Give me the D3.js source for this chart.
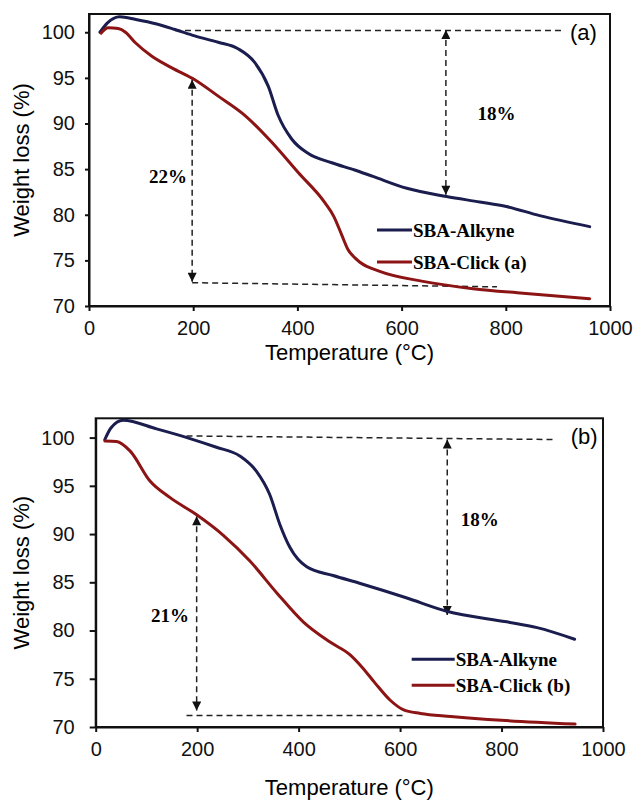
<!DOCTYPE html>
<html>
<head>
<meta charset="utf-8">
<script src="https://cdn.jsdelivr.net/npm/d3@7"></script>
<style>
  body { margin: 0; background: #fff; }
  svg { display: block; }
  .tick text { font-family: "Liberation Sans", Arial, sans-serif; font-size: 20px; fill: #111; }
  .domain, .tick line { stroke: #111; stroke-width: 2px; }
</style>
</head>
<body>
<svg id="grafico" width="635" height="805"></svg>
<script>
// valores (temperatura °C, pérdida de peso %)
const alkyneA = [[21,100.0],[35,101.0],[59,101.7],[90,101.4],[130,100.9],[165,100.3],[203,99.6],[248,98.9],[286,98.2],[318,96.7],[344,94.1],[363,90.9],[389,88.3],[421,86.7],[466,85.7],[510,84.9],[545,84.2],[610,82.9],[686,82.0],[750,81.4],[801,80.9],[865,79.9],[961,78.7]];
const clickA = [[23,99.9],[37,100.5],[56,100.4],[70,100.0],[88,98.9],[120,97.4],[159,96.1],[203,94.8],[248,93.0],[299,90.9],[350,88.0],[402,84.6],[453,81.3],[470,79.8],[485,77.8],[497,76.2],[510,75.3],[520,74.8],[558,73.8],[641,72.7],[737,71.9],[833,71.4],[961,70.8]];
const alkyneB = [[18,99.8],[30,101.0],[54,101.8],[120,100.9],[186,99.9],[238,99.0],[284,98.1],[317,96.5],[343,94.1],[363,91.0],[383,88.6],[416,86.6],[468,85.7],[520,84.9],[612,83.4],[692,82.0],[810,80.9],[870,80.3],[944,79.1]];
const clickB = [[18,99.65],[41,99.6],[68,98.6],[107,95.5],[146,93.8],[199,92.0],[251,89.9],[304,87.2],[357,83.9],[409,80.9],[462,78.8],[501,77.5],[525,76.2],[550,74.6],[580,72.8],[606,71.8],[640,71.4],[700,71.1],[800,70.7],[945,70.3]];

const nombresA = ["SBA-Alkyne", "SBA-Click (a)"];
const nombresB = ["SBA-Alkyne", "SBA-Click (b)"];

const xTicks = [0, 200, 400, 600, 800, 1000];
const yTicks = [70, 75, 80, 85, 90, 95, 100];

// anotaciones: líneas discontinuas, flechas [x, yArriba, yAbajo], textos
const lineasA = [[[165,100.2],[910,100.2]], [[198,72.55],[783,72.1]]];
const flechasA = [[685,100.25,82.2], [198,94.8,72.65]];
const notasA = [["18%",782,91.15], ["22%",151.6,84.17]];
const etiquetaA = ["(a)", 949, 100];

const lineasB = [[[179,100.17],[901,99.8]], [[179,71.2],[605,71.2]]];
const flechasB = [[693,99.8,81.6], [199,91.85,71.7]];
const notasB = [["18%",757,91.5], ["21%",146.4,81.6]];
const etiquetaB = ["(b)", 963, 100.1];

const colores = ["#1a1d4d", "#8c1414"];

const svg = d3.select("#grafico");

svg.append("defs").append("marker")
    .attr("id", "punta")
    .attr("viewBox", "0 0 10 10")
    .attr("refX", 10).attr("refY", 5)
    .attr("markerWidth", 10).attr("markerHeight", 9)
    .attr("markerUnits", "userSpaceOnUse")
    .attr("orient", "auto-start-reverse")
    .append("path")
    .attr("d", "M0,0 L10,5 L0,10 z")
    .attr("fill", "#111");

function dibujarPanel(p) {
    const x = d3.scaleLinear().domain([0, 1000]).range([p.left, p.right]);
    const y = d3.scaleLinear().domain([70, 102]).range([p.bottom, p.top]);
    const g = svg.append("g");

    // ejes
    g.append("g")
        .attr("transform", "translate(0," + p.bottom + ")")
        .call(d3.axisBottom(x).tickValues(xTicks).tickSize(5).tickSizeOuter(0).tickPadding(p.xPad).tickFormat(d3.format("d")));
    g.append("g")
        .attr("transform", "translate(" + p.left + ",0)")
        .call(d3.axisLeft(y).tickValues(yTicks).tickSize(p.yTick).tickSizeOuter(0).tickPadding(p.yPad));

    // marco
    g.append("rect")
        .attr("x", p.left).attr("y", p.top)
        .attr("width", p.right - p.left).attr("height", p.bottom - p.top)
        .attr("fill", "none").attr("stroke", "#111").attr("stroke-width", 2);

    // líneas de referencia
    const linea = d3.line().x(d => x(d[0])).y(d => y(d[1]));
    for (let l of p.lineas) {
        g.append("path").attr("d", linea(l))
            .attr("fill", "none").attr("stroke", "#222")
            .attr("stroke-width", 1.5).attr("stroke-dasharray", "6,4");
    }
    for (let f of p.flechas) {
        g.append("line")
            .attr("x1", x(f[0])).attr("y1", y(f[1]))
            .attr("x2", x(f[0])).attr("y2", y(f[2]))
            .attr("stroke", "#222").attr("stroke-width", 1.5)
            .attr("stroke-dasharray", "6,4")
            .attr("marker-start", "url(#punta)")
            .attr("marker-end", "url(#punta)");
    }

    // curvas
    const curva = d3.line().curve(d3.curveMonotoneX).x(d => x(d[0])).y(d => y(d[1]));
    p.series.forEach((s, i) => {
        g.append("path").datum(s)
            .attr("d", curva)
            .attr("fill", "none")
            .attr("stroke", colores[i])
            .attr("stroke-width", 3)
            .attr("stroke-linejoin", "round")
            .attr("stroke-linecap", "round");
    });

    for (let n of p.notas) {
        g.append("text")
            .attr("x", x(n[1])).attr("y", y(n[2])).attr("dy", "0.35em")
            .attr("text-anchor", "middle")
            .style("font-family", "'Liberation Serif', 'Times New Roman', serif")
            .style("font-weight", "bold").style("font-size", "19px")
            .text(n[0]);
    }
    g.append("text")
        .attr("x", x(p.etiqueta[1])).attr("y", y(p.etiqueta[2])).attr("dy", "0.35em")
        .attr("text-anchor", "middle")
        .style("font-family", "'Liberation Sans', Arial, sans-serif")
        .style("font-size", "22px")
        .text(p.etiqueta[0]);

    // leyenda
    p.nombres.forEach((nombre, i) => {
        const ly = p.top + p.legY + i * p.legGap;
        const lx = p.left + p.legX;
        g.append("line")
            .attr("x1", lx).attr("x2", lx + p.legLen)
            .attr("y1", ly).attr("y2", ly)
            .attr("stroke", colores[i]).attr("stroke-width", 3);
        g.append("text")
            .attr("x", lx + p.legLen + 1).attr("y", ly).attr("dy", "0.35em")
            .style("font-family", "'Liberation Serif', 'Times New Roman', serif")
            .style("font-weight", "bold").style("font-size", "19px")
            .text(nombre);
    });

    // títulos de ejes
    g.append("text")
        .attr("transform", "translate(28.5," + ((p.top + p.bottom) / 2) + ") rotate(-90)")
        .attr("text-anchor", "middle")
        .style("font-family", "'Liberation Sans', Arial, sans-serif")
        .style("font-size", "22px")
        .text("Weight loss (%)");
    g.append("text")
        .attr("x", (p.left + p.right) / 2).attr("y", p.xTitleY)
        .attr("text-anchor", "middle")
        .style("font-family", "'Liberation Sans', Arial, sans-serif")
        .style("font-size", "22px")
        .text("Temperature (°C)");
}

dibujarPanel({
    left: 89, right: 610, top: 14, bottom: 306,
    xPad: 10, yTick: 4, yPad: 10, xTitleY: 360,
    legX: 288, legY: 216, legGap: 32, legLen: 35,
    series: [alkyneA, clickA], nombres: nombresA,
    lineas: lineasA, flechas: flechasA, notas: notasA, etiqueta: etiquetaA
});

dibujarPanel({
    left: 95.7, right: 603, top: 418.3, bottom: 727,
    xPad: 10, yTick: 6, yPad: 15, xTitleY: 795,
    legX: 316, legY: 241, legGap: 26, legLen: 43,
    series: [alkyneB, clickB], nombres: nombresB,
    lineas: lineasB, flechas: flechasB, notas: notasB, etiqueta: etiquetaB
});
</script>
</body>
</html>
